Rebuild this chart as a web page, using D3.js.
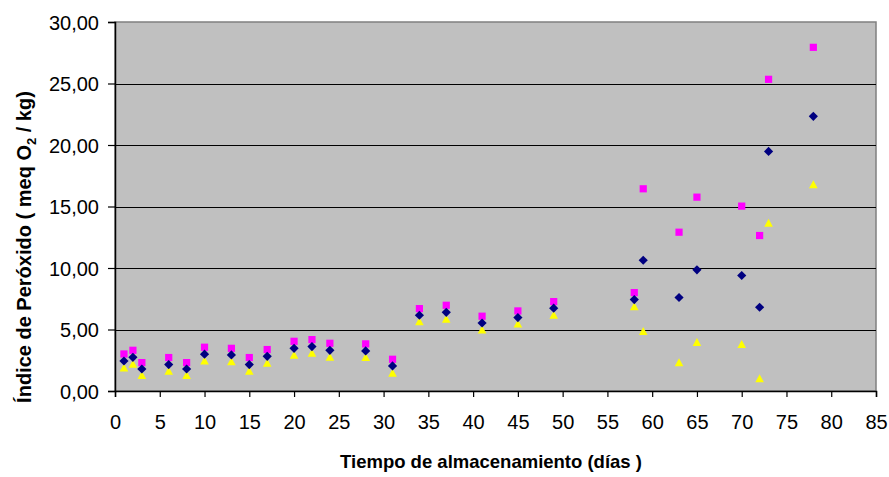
<!DOCTYPE html>
<html><head><meta charset="utf-8">
<script src="https://cdn.jsdelivr.net/npm/d3@7"></script>
<style>body{margin:0;background:#fff}svg{display:block}</style>
</head><body>
<script>
const days = [1,2,3,6,8,10,13,15,17,20,22,24,28,31,34,37,41,45,49,58,59,63,65,70,72,73,78];
const pinkValues = [3.01,3.31,2.31,2.72,2.31,3.56,3.47,2.72,3.37,4.04,4.18,3.88,3.83,2.58,6.70,6.97,6.08,6.51,7.27,8.00,16.44,12.91,15.76,15.03,12.64,25.34,27.94];
const navyValues = [2.44,2.74,1.79,2.15,1.79,2.99,2.93,2.15,2.82,3.47,3.61,3.31,3.26,2.04,6.16,6.40,5.53,5.97,6.73,7.43,10.63,7.60,9.85,9.39,6.81,19.48,22.33];
const yellowValues = [1.87,2.17,1.25,1.60,1.25,2.44,2.36,1.60,2.25,2.90,3.07,2.74,2.72,1.44,5.62,5.83,4.96,5.43,6.16,6.84,4.83,2.28,3.94,3.77,0.98,13.64,16.76];
const xTicks = d3.range(0, 86, 5);
const yTicks = [0,5,10,15,20,25,30];
const xTitle = "Tiempo de almacenamiento (días )";

const W = 889, H = 477;
const L = 115, R = 876, T = 22, B = 391;
const svg = d3.select("body").append("svg").attr("width", W).attr("height", H)
  .style("font-family", "'Liberation Sans', Arial, sans-serif");
const x = d3.scaleLinear().domain([0, 85]).range([L, R]);
const y = d3.scaleLinear().domain([0, 30]).range([B, T]);

svg.append("rect").attr("x", L).attr("y", T).attr("width", R - L).attr("height", B - T)
  .attr("fill", "#c0c0c0").attr("stroke", "#808080").attr("stroke-width", 1.5);

// gridlines
svg.append("g").selectAll("line").data(yTicks.filter(v => v > 0 && v < 30)).join("line")
  .attr("x1", L).attr("x2", R).attr("y1", d => Math.round(y(d)) + 0.5).attr("y2", d => Math.round(y(d)) + 0.5)
  .attr("stroke", "#000").attr("stroke-width", 1);

// axes
const xAxis = svg.append("g").attr("transform", `translate(0,${B})`)
  .call(d3.axisBottom(x).tickValues(xTicks).tickSize(6).tickPadding(18).tickFormat(d3.format("d")));
const yAxis = svg.append("g").attr("transform", `translate(${L},0)`)
  .call(d3.axisLeft(y).tickValues(yTicks).tickSize(7).tickPadding(9).tickFormat(d => d.toFixed(2).replace(".", ",")));
[xAxis, yAxis].forEach(g => {
  g.select(".domain").attr("stroke", "#000").attr("stroke-width", 1.5);
  g.selectAll(".tick line").attr("stroke", "#000").attr("stroke-width", 1.2);
  g.selectAll("text").attr("fill", "#000").style("font-size", "20px")
    .style("font-family", "'Liberation Sans', Arial, sans-serif");
});
yAxis.selectAll("text").attr("dy", "0.35em");

// markers
const sq = d3.symbol().type(d3.symbolSquare).size(52);
const dia = "M0,-4.6L4.6,0L0,4.6L-4.6,0Z";
const tri = "M0,-4.6L4.3,3.4L-4.3,3.4Z";

svg.append("g").selectAll("path").data(days.map((d, i) => [d, yellowValues[i]])).join("path")
  .attr("d", tri).attr("transform", d => `translate(${x(d[0])},${y(d[1])})`).attr("fill", "#ffff00");
svg.append("g").selectAll("path").data(days.map((d, i) => [d, pinkValues[i]])).join("path")
  .attr("d", sq).attr("transform", d => `translate(${x(d[0])},${y(d[1])})`).attr("fill", "#ff00ff");
svg.append("g").selectAll("path").data(days.map((d, i) => [d, navyValues[i]])).join("path")
  .attr("d", dia).attr("transform", d => `translate(${x(d[0])},${y(d[1])})`).attr("fill", "#000080");

// titles
svg.append("text").attr("x", 491).attr("y", 468).attr("text-anchor", "middle")
  .style("font-size", "18.5px").style("font-weight", "bold").text(xTitle);

const yt = svg.append("text").attr("transform", "translate(31,247) rotate(-90)").attr("text-anchor", "middle")
  .style("font-size", "20px").style("font-weight", "bold");
yt.append("tspan").text("Índice de Peróxido ( meq O");
yt.append("tspan").attr("dy", 5).style("font-size", "13px").text("2");
yt.append("tspan").attr("dy", -5).text(" / kg)");
</script>
</body></html>
